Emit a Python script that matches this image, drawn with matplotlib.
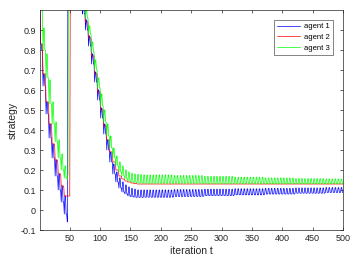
import numpy as np
import matplotlib
matplotlib.use("Agg")
import matplotlib.pyplot as plt

plt.rcParams['font.family'] = ['Liberation Sans', 'DejaVu Sans']

# iterations and step structure
n_iter = 500
period = 5                      # strategies change every 5 iterations
hi_pattern = [0, 1, 1, 0, 0]    # where in a period the upper value is taken
start_value = 1.0
jump_value = 1.3                # off the top of the axes
jump_end = 71
tail_chunks = [50, 50, 50, 50, 50, 50, 30]   # iterations 171..500

# agent 1 (blue)
a1_lo_1 = [0.80, 0.62, 0.48, 0.36, 0.26, 0.17, 0.10, 0.04, -0.02, -0.06]
a1_hi_1 = [0.83, 0.68, 0.54, 0.43, 0.33, 0.25, 0.18, 0.12, 0.07, 0.05]
a1_lo_2 = [0.98, 0.90, 0.82, 0.73, 0.64, 0.55, 0.46, 0.38, 0.30, 0.24,
           0.18, 0.14, 0.11, 0.09, 0.08, 0.07, 0.066, 0.064, 0.063, 0.063]
a1_hi_2 = [1.02, 0.95, 0.87, 0.78, 0.69, 0.60, 0.51, 0.43, 0.35, 0.29,
           0.23, 0.19, 0.16, 0.14, 0.125, 0.115, 0.108, 0.104, 0.10, 0.10]
a1_lo_tail = [0.064, 0.068, 0.072, 0.076, 0.080, 0.084, 0.088]
a1_hi_tail = [0.100, 0.102, 0.104, 0.106, 0.108, 0.110, 0.112]
a1_jump = 47

# agent 2 (red)
a2_lvl_1 = [0.83, 0.68, 0.54, 0.43, 0.33, 0.25, 0.18, 0.12, 0.07, 0.07]
a2_lvl_2 = [1.05, 0.94, 0.86, 0.77, 0.68, 0.59, 0.50, 0.42, 0.35, 0.29,
            0.24, 0.20, 0.17, 0.155, 0.145, 0.14, 0.135, 0.132, 0.13, 0.13]
a2_lvl_tail = [0.13, 0.13, 0.13, 0.13, 0.13, 0.13, 0.13]
a2_jump = 51

# agent 3 (green)
a3_lo_1 = [1.00, 0.80, 0.66, 0.53, 0.43, 0.34, 0.26, 0.20, 0.16, 0.15]
a3_hi_1 = [1.00, 0.91, 0.78, 0.65, 0.54, 0.44, 0.35, 0.28, 0.22, 0.18]
a3_lo_2 = [1.05, 0.96, 0.88, 0.79, 0.70, 0.61, 0.52, 0.44, 0.37, 0.31,
           0.26, 0.22, 0.19, 0.17, 0.155, 0.145, 0.14, 0.137, 0.135, 0.135]
a3_hi_2 = [1.10, 1.00, 0.92, 0.84, 0.75, 0.66, 0.58, 0.50, 0.43, 0.37,
           0.31, 0.27, 0.24, 0.22, 0.20, 0.19, 0.183, 0.18, 0.178, 0.177]
a3_lo_tail = [0.134, 0.134, 0.133, 0.133, 0.132, 0.132, 0.132]
a3_hi_tail = [0.175, 0.172, 0.168, 0.164, 0.160, 0.157, 0.155]
a3_jump = 48

labels = ["agent 1", "agent 2", "agent 3"]
colors = ["#0000ff", "#ff0000", "#00ff00"]

xticks = [50, 100, 150, 200, 250, 300, 350, 400, 450, 500]
yticks = [-0.1, 0, 0.1, 0.2, 0.3, 0.4, 0.5, 0.6, 0.7, 0.8, 0.9]
yticklabels = ["-0.1", "0", "0.1", "0.2", "0.3", "0.4", "0.5", "0.6", "0.7", "0.8", "0.9"]


def expand(ph1, ph2, tail):
    n_gap = jump_end - 1 - period * len(ph1)
    return np.concatenate([np.repeat(ph1, period), np.full(n_gap, jump_value),
                           np.repeat(ph2, period), np.repeat(tail, tail_chunks)])


def build(lo1, hi1, lo2, hi2, lo_t, hi_t, jump):
    lo = expand(lo1, lo2, lo_t)
    hi = expand(hi1, hi2, hi_t)
    mask = np.tile(hi_pattern, n_iter // period).astype(bool)
    y = np.where(mask, hi, lo)
    y[0] = start_value
    y[jump - 1:jump_end - 1] = jump_value
    return y


t = np.arange(1, n_iter + 1)
series = [
    build(a1_lo_1, a1_hi_1, a1_lo_2, a1_hi_2, a1_lo_tail, a1_hi_tail, a1_jump),
    build(a2_lvl_1, a2_lvl_1, a2_lvl_2, a2_lvl_2, a2_lvl_tail, a2_lvl_tail, a2_jump),
    build(a3_lo_1, a3_hi_1, a3_lo_2, a3_hi_2, a3_lo_tail, a3_hi_tail, a3_jump),
]

fig = plt.figure(figsize=(3.57, 2.68), dpi=100)
ax = fig.add_axes([40 / 357, 1 - 230 / 268, 303 / 357, 220 / 268])
for y, c, lab in zip(series, colors, labels):
    ax.plot(t, y, color=c, lw=0.5, label=lab)

ax.set_xlim(1, 500)
ax.set_ylim(-0.1, 1.0)
ax.set_xticks(xticks)
ax.set_yticks(yticks)
ax.set_yticklabels(yticklabels)
ax.tick_params(direction="in", length=2.5, width=0.5, labelsize=6.5,
               colors="#262626", top=True, right=True, pad=3)
for s in ax.spines.values():
    s.set_linewidth(0.5)
    s.set_color("#262626")
ax.set_xlabel("iteration t", fontsize=7.5, color="#262626", labelpad=2)
ax.set_ylabel("strategy", fontsize=7.5, color="#262626", labelpad=2)

leg = ax.legend(loc="upper right", fontsize=5.5, frameon=True, fancybox=False,
                handlelength=3.0, handletextpad=0.6, borderpad=0.4,
                labelspacing=0.45, borderaxespad=1.3)
leg.get_frame().set_edgecolor("#262626")
leg.get_frame().set_linewidth(0.5)

fig.savefig("out.png", dpi=100)
